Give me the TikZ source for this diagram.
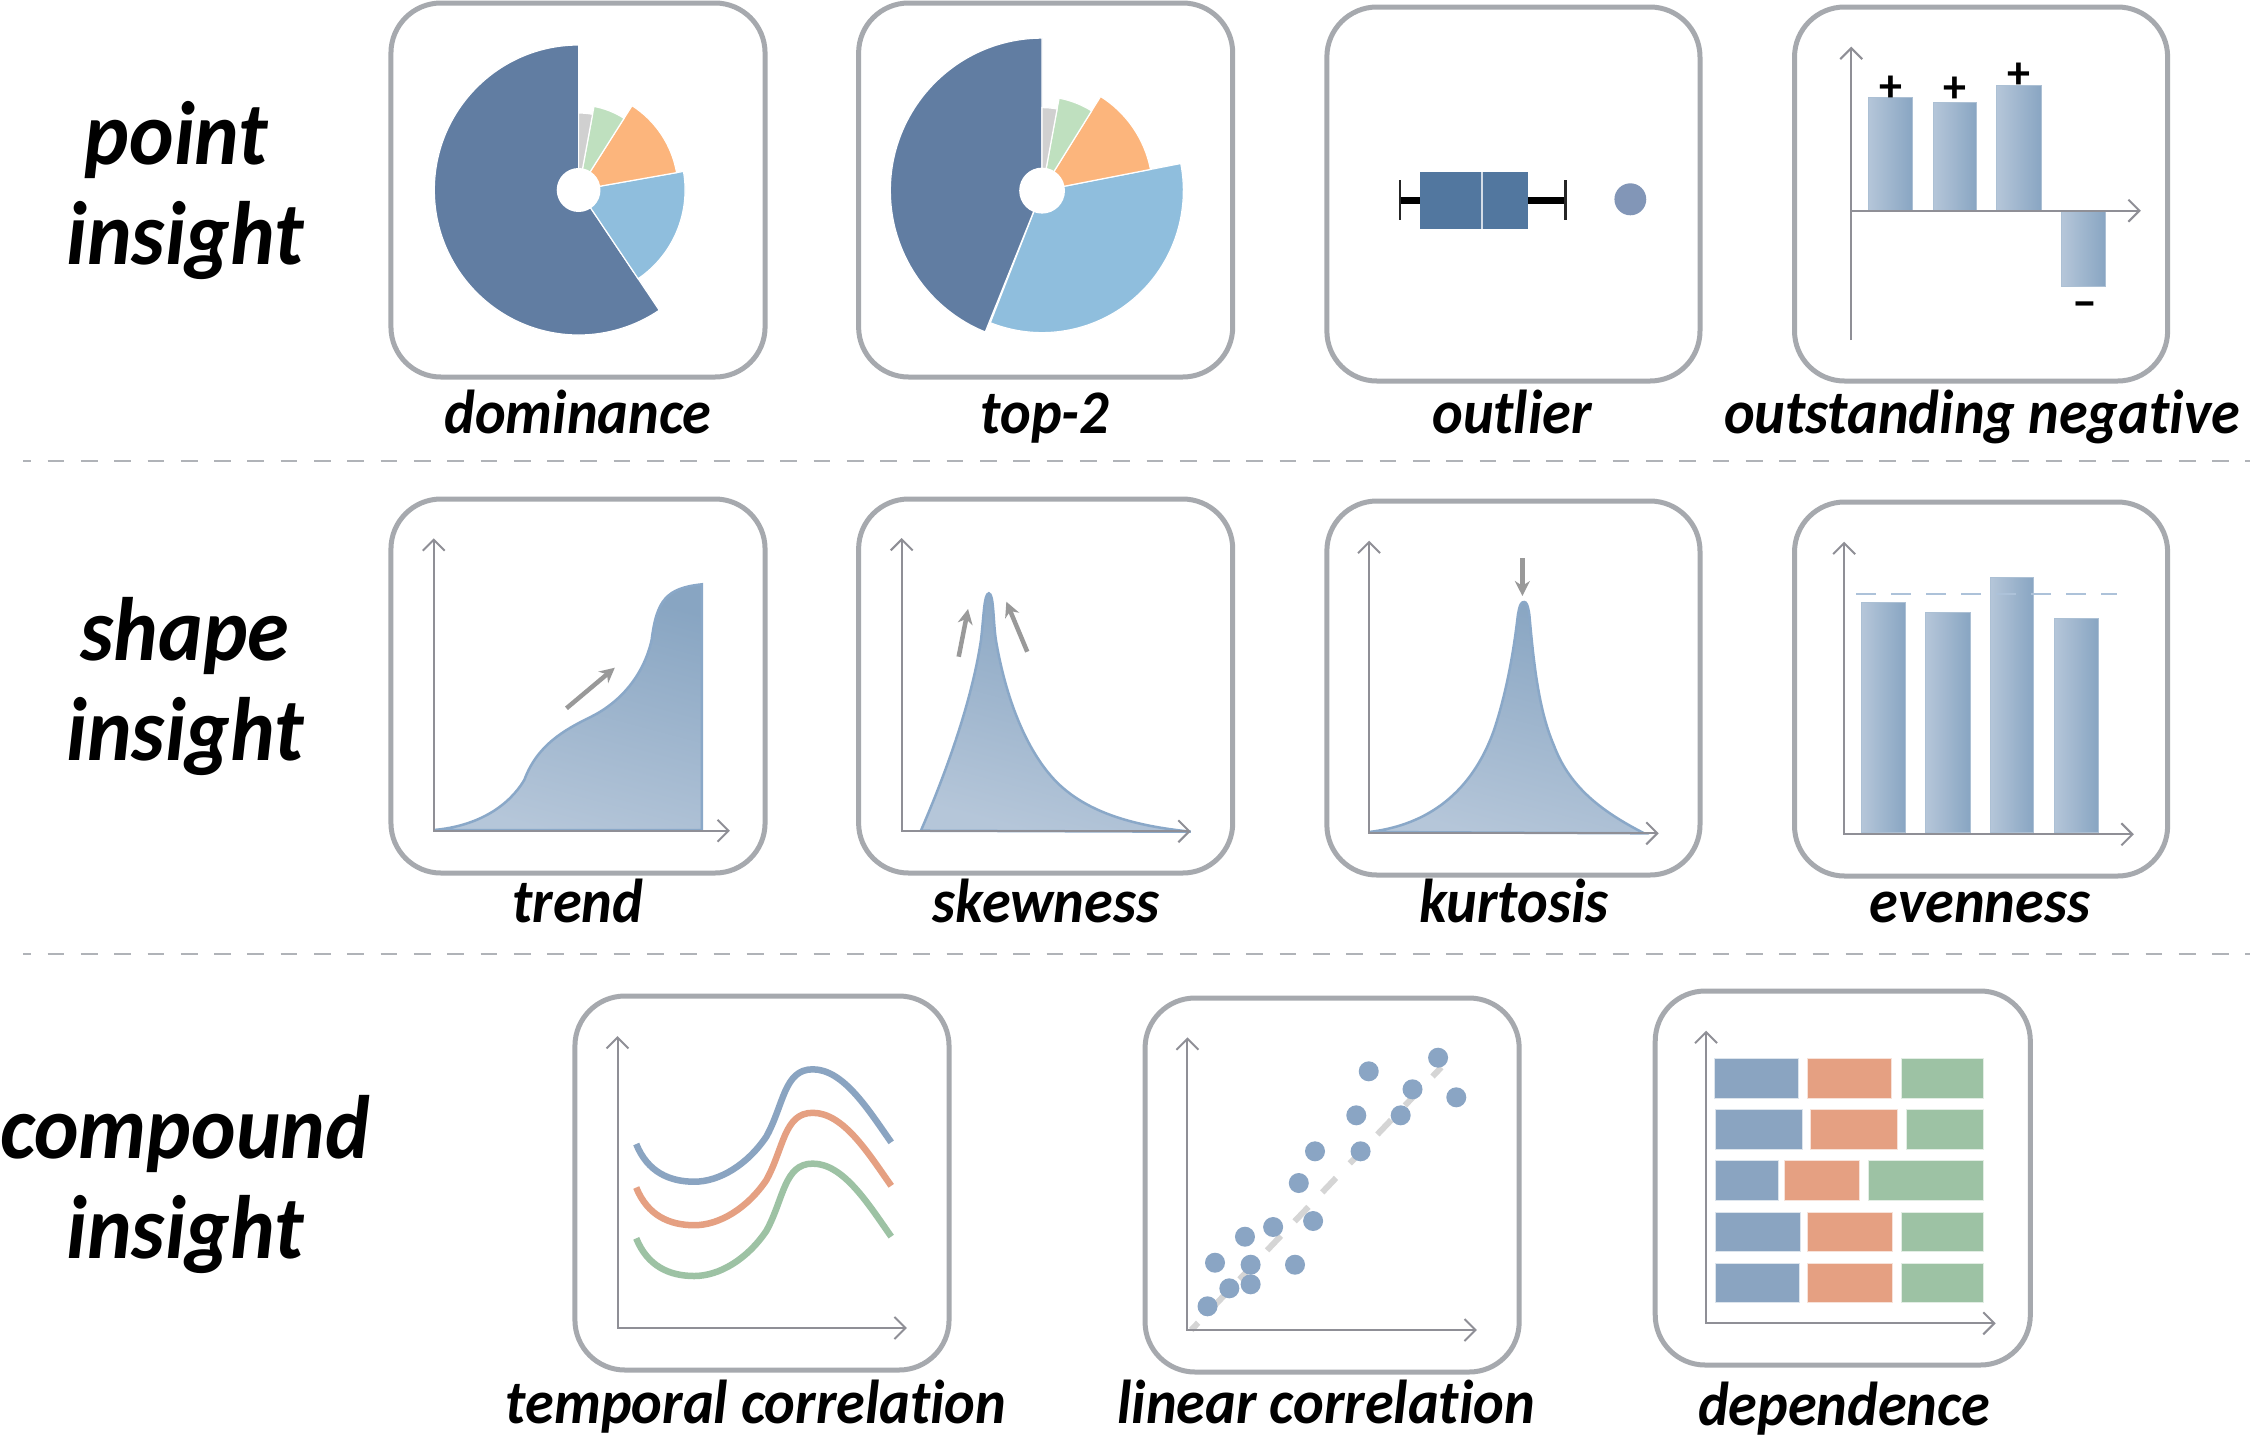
\documentclass[tikz,border=0pt]{standalone}
\usepackage{fontspec}
\setmainfont{Carlito}[Ligatures=CommonOff]
\usetikzlibrary{arrows.meta}
\definecolor{boxc}{HTML}{A6A9AE}
\definecolor{axisc}{HTML}{8F8F96}
\definecolor{pdark}{HTML}{617DA2}
\definecolor{pblue}{HTML}{8FBEDD}
\definecolor{porange}{HTML}{FCB57C}
\definecolor{pgreen}{HTML}{BFE0BF}
\definecolor{pgrey}{HTML}{D0D0D0}
\definecolor{gradl}{HTML}{B5C6D9}
\definecolor{gradd}{HTML}{88A5C2}
\definecolor{edgeb}{HTML}{8AA8C8}
\definecolor{cblue}{HTML}{8AA4C1}
\definecolor{corange}{HTML}{E5A082}
\definecolor{cgreen}{HTML}{9DC2A4}
\definecolor{boxblue}{HTML}{52779F}
\definecolor{outl}{HTML}{8296B7}
\definecolor{dotc}{HTML}{8AA5C4}
\definecolor{hintc}{HTML}{999999}
\definecolor{sepc}{HTML}{B0B3B8}
\tikzset{
  x=1pt,y=-1pt,
  card/.style={draw=boxc,line width=5pt,rounded corners=50pt,fill=white},
  axisl/.style={draw=axisc,line width=2pt,{Straight Barb[length=11pt,width=22pt]}-{Straight Barb[length=11pt,width=22pt]}},
  axisr/.style={draw=axisc,line width=2pt,-{Straight Barb[length=11pt,width=22pt]}},
  hint/.style={draw=hintc,line width=4.5pt,-{Stealth[length=15pt,width=15pt]}},
  area/.style={draw=edgeb,line width=2.5pt,top color=gradd,bottom color=gradl,shading angle=-15},
  gbar/.style={draw=gradd!70!white,line width=1pt,left color=gradl,right color=gradd},
  slice/.style={draw=white,line width=1.2pt},
  lab/.style={font=\fontsize{62}{65}\selectfont\itshape\bfseries,anchor=base,inner sep=0pt,text=black,xscale=0.94},
  head/.style={font=\fontsize{90}{92}\selectfont\itshape\bfseries,anchor=base,inner sep=0pt,text=black,xscale=0.94},
  sign/.style={font=\fontsize{46}{46}\selectfont\bfseries,inner sep=0pt,text=black},
  sep/.style={draw=sepc,line width=2pt,dash pattern=on 16.7pt off 16.6pt,dash phase=8.7pt},
  cell/.style={draw=white!70!#1,line width=1pt,fill=#1},
  dotp/.style={circle,fill=dotc,minimum size=20pt,inner sep=0pt},
  curveb/.style={line width=6.5pt,draw=#1}
}
\newcommand{\wedgeat}[6]{% cx cy r a1 a2 color
  \fill[#6,slice] (#1,#2) -- ++(#4:#3pt) arc[start angle=#4,end angle=#5,radius=#3pt] -- cycle;
}
\begin{document}
\begin{tikzpicture}
\useasboundingbox (0,0) rectangle (2250,1441);
\fill[white] (0,0) rectangle (2250,1441);
% separators
\draw[sep] (23,461) -- (2250,461);
\draw[sep] (23,954) -- (2250,954);
% headings
\node[head] (h1a) at (176.5,164) {point};
\node[head] (h1b) at (185,264) {insight};
\node[head] (h2a) at (185,660) {shape};
\node[head] (h2b) at (185,760) {insight};
\node[head] (h3a) at (185,1158) {compound};
\node[head] (h3b) at (185,1258) {insight};
% labels
\node[lab] (l1) at (578,433) {dominance};
\node[lab] (l2) at (1045,433) {top-2};
\node[lab] (l3) at (1512,433) {outlier};
\node[lab] (l4) at (1982,433) {outstanding negative};
\node[lab] (l5) at (578,922) {trend};
\node[lab] (l6) at (1046,922) {skewness};
\node[lab] (l7) at (1514,922) {kurtosis};
\node[lab] (l8) at (1980,922) {evenness};
\node[lab] (l9) at (756,1423) {temporal correlation};
\node[lab] (l10) at (1326,1423) {linear correlation};
\node[lab] (l11) at (1844,1425) {dependence};
% group A: first two columns, rows 1-2
\begin{scope}[xshift=1.9pt,xscale=0.995]
\foreach \a/\b/\c/\d in {391/3/767/377,861/3/1237/377,391/499/767/873,861/499/1237/873}
  \draw[card] (\a,\b) rectangle (\c,\d);
% pie 1
\wedgeat{579.6}{190}{145}{90}{304}{pdark}
\wedgeat{579.6}{190}{107}{-56}{10}{pblue}
\wedgeat{579.6}{190}{100}{10}{57.5}{porange}
\wedgeat{579.6}{190}{85}{57.5}{79.5}{pgreen}
\wedgeat{579.6}{190}{77}{79.5}{90}{pgrey}
\fill[white] (579.6,190) circle[radius=22pt];
% pie 2
\wedgeat{1045.4}{190.6}{142}{-111.5}{11}{pblue}
\wedgeat{1045.4}{190.6}{152.5}{90}{248}{pdark}
\wedgeat{1045.4}{190.6}{111}{11}{58}{porange}
\wedgeat{1045.4}{190.6}{94}{58}{79.5}{pgreen}
\wedgeat{1045.4}{190.6}{83}{79.5}{90}{pgrey}
\fill[white] (1045.4,190.6) circle[radius=23pt];
% trend
\shadedraw[area] (434,830) .. controls (480,826) and (510,805) .. (525,780)
  .. controls (538,745) and (565,730) .. (592.2,716.7)
  .. controls (622,702) and (645,675) .. (653,640)
  .. controls (658,600) and (668,588) .. (703.6,584.3) -- (703.6,830) -- cycle;
\draw[axisl] (434,538.3) -- (434,830.7) -- (731.7,830.7);
\draw[hint] (567.4,708.3) -- (616,667.7);
% skewness
\shadedraw[area] (923.6,830.7) .. controls (950,770) and (975,700) .. (984,640)
  .. controls (987,615) and (987,594) .. (991.9,593.3)
  .. controls (997,594) and (996,620) .. (999,640)
  .. controls (1010,705) and (1033,755) .. (1060,782)
  .. controls (1095,817) and (1150,827) .. (1194.8,831.7) -- cycle;
\draw[axisl] (904.3,538) -- (904.3,831.3) -- (1194.8,831.3);
\draw[hint] (961.6,656.7) -- (971,609);
\draw[hint] (1030.5,651.7) -- (1009.5,601.7);
\end{scope}
% group B: last two columns, rows 1-2
\begin{scope}[xshift=6.5pt,xscale=0.995]
\foreach \a/\b/\c/\d in {1327/7/1702/381,1797/7/2172/381,1327/501/1702/875,1797/502/2172/876}
  \draw[card] (\a,\b) rectangle (\c,\d);
% boxplot
\fill[black] (1400.5,196.7) rectangle (1567,204);
\draw[black!85,line width=2.5pt] (1400.5,180) -- (1400.5,220);
\draw[black!85,line width=2.5pt] (1567,180) -- (1567,220);
\fill[boxblue] (1420.6,172) rectangle (1529.6,228.7);
\draw[white!75!boxblue,line width=2pt] (1483.3,172) -- (1483.3,228.7);
\fill[outl] (1632,199.3) circle[radius=16pt];
% outstanding negative
\shade[gbar] (1871,97.3) rectangle (1916,210.7);
\shade[gbar] (1936.4,102.3) rectangle (1980.3,210.7);
\shade[gbar] (2000.4,85.3) rectangle (2045.4,210.7);
\shade[gbar] (2065.5,210.7) rectangle (2110,286);
\draw[axisr] (1854,340) -- (1854,46.7);
\draw[axisr] (1854,210.7) -- (2145,210.7);
\node[sign] (p1) at (1893.8,88.5) {+};
\node[sign] (p2) at (1958,89.8) {+};
\node[sign] (p3) at (2023,76.2) {+};
\node[sign] (m1) at (2088.7,309.7) {−};
% kurtosis
\shadedraw[area] (1369.4,832) .. controls (1420,826) and (1470,800) .. (1495,730)
  .. controls (1510,685) and (1516,640) .. (1519,615)
  .. controls (1521,603) and (1523,602) .. (1525.3,602)
  .. controls (1527.6,602) and (1529,605) .. (1530.5,615)
  .. controls (1535,665) and (1540,710) .. (1555,745)
  .. controls (1570,785) and (1600,810) .. (1645.9,833.3) -- cycle;
\draw[axisl] (1369.4,540.7) -- (1369.4,833.3) -- (1660.5,833.3);
\draw[hint] (1523.5,558.3) -- (1523.5,596);
% evenness
\shade[gbar] (1864.5,602.3) rectangle (1909,832);
\shade[gbar] (1929,612) rectangle (1973.6,832);
\shade[gbar] (1993.7,577.3) rectangle (2037.5,832);
\shade[gbar] (2058,618.3) rectangle (2102,832);
\draw[draw=edgeb!70!white,line width=2pt,dash pattern=on 20pt off 15pt] (1859,594.3) -- (2121,594.3);
\draw[axisl] (1846.9,541.7) -- (1846.9,834.3) -- (2138,834.3);
\end{scope}
% group C: row 3, first two
\begin{scope}[xshift=2.8pt,xscale=0.995]
\foreach \a/\b/\c/\d in {575/996/951/1370,1148/998/1524/1372}
  \draw[card] (\a,\b) rectangle (\c,\d);
% temporal
\draw[axisl] (617.8,1036) -- (617.8,1328) -- (908.6,1328);
\foreach \o/\c in {0/cblue,43.5/corange,94.3/cgreen}
  \draw[curveb=\c] (636.6,1144+\o) .. controls (648,1172+\o) and (670,1181.7+\o) .. (695,1181.7+\o)
   .. controls (720,1181.7+\o) and (748,1165+\o) .. (767.3,1136.7+\o)
   .. controls (785,1105+\o) and (785,1069.3+\o) .. (814,1069.3+\o)
   .. controls (845,1069.3+\o) and (870,1110+\o) .. (892.9,1142.3+\o);
% linear
\draw[draw=pgrey!90!white,line width=6pt,dash pattern=on 20pt off 20pt,dash phase=10pt] (1194.4,1330) -- (1445.7,1067.3);
\draw[axisl] (1190.6,1037.3) -- (1190.6,1330) -- (1481.5,1330);
\foreach \i/\px/\py in {1/1210.8/1306.3,2/1232.7/1288.3,3/1254.1/1284.3,4/1218.3/1262.7,5/1254.1/1264.7,6/1298.7/1264.7,7/1248.4/1236.7,8/1276.7/1227,9/1316.9/1221,10/1302.5/1183,11/1318.8/1151.3,12/1364.6/1151.3,13/1360.3/1115.3,14/1404.9/1115.3,15/1416.8/1089.3,16/1460.8/1097.3,17/1372.8/1071.3,18/1442.5/1057.7}
  \node[dotp] (d\i) at (\px,\py) {};
\end{scope}
% group D: dependence
\begin{scope}[xshift=7.5pt,xscale=0.995]
\draw[card] (1656,991) rectangle (2033,1365);
\draw[axisl] (1707.1,1030.7) -- (1707.1,1323.3) -- (1998.2,1323.3);
\foreach \t/\u/\xa/\xb/\xc/\xd/\xe/\xf in {
 1058.3/1098/1715.7/1800.4/1809/1893/1903/1986.4,
 1109.7/1149.3/1716.4/1804/1811.6/1899/1908.5/1986.4,
 1160.7/1200.3/1716.4/1780/1786/1861.5/1870.8/1986.4,
 1212/1251.7/1716.4/1801.9/1809/1894.8/1903/1986.4,
 1263.3/1302.7/1716.4/1801.1/1809/1894.1/1903/1986.4}{
  \draw[cell=cblue] (\xa,\t) rectangle (\xb,\u);
  \draw[cell=corange] (\xc,\t) rectangle (\xd,\u);
  \draw[cell=cgreen] (\xe,\t) rectangle (\xf,\u);
}
\end{scope}
\end{tikzpicture}
\end{document}
